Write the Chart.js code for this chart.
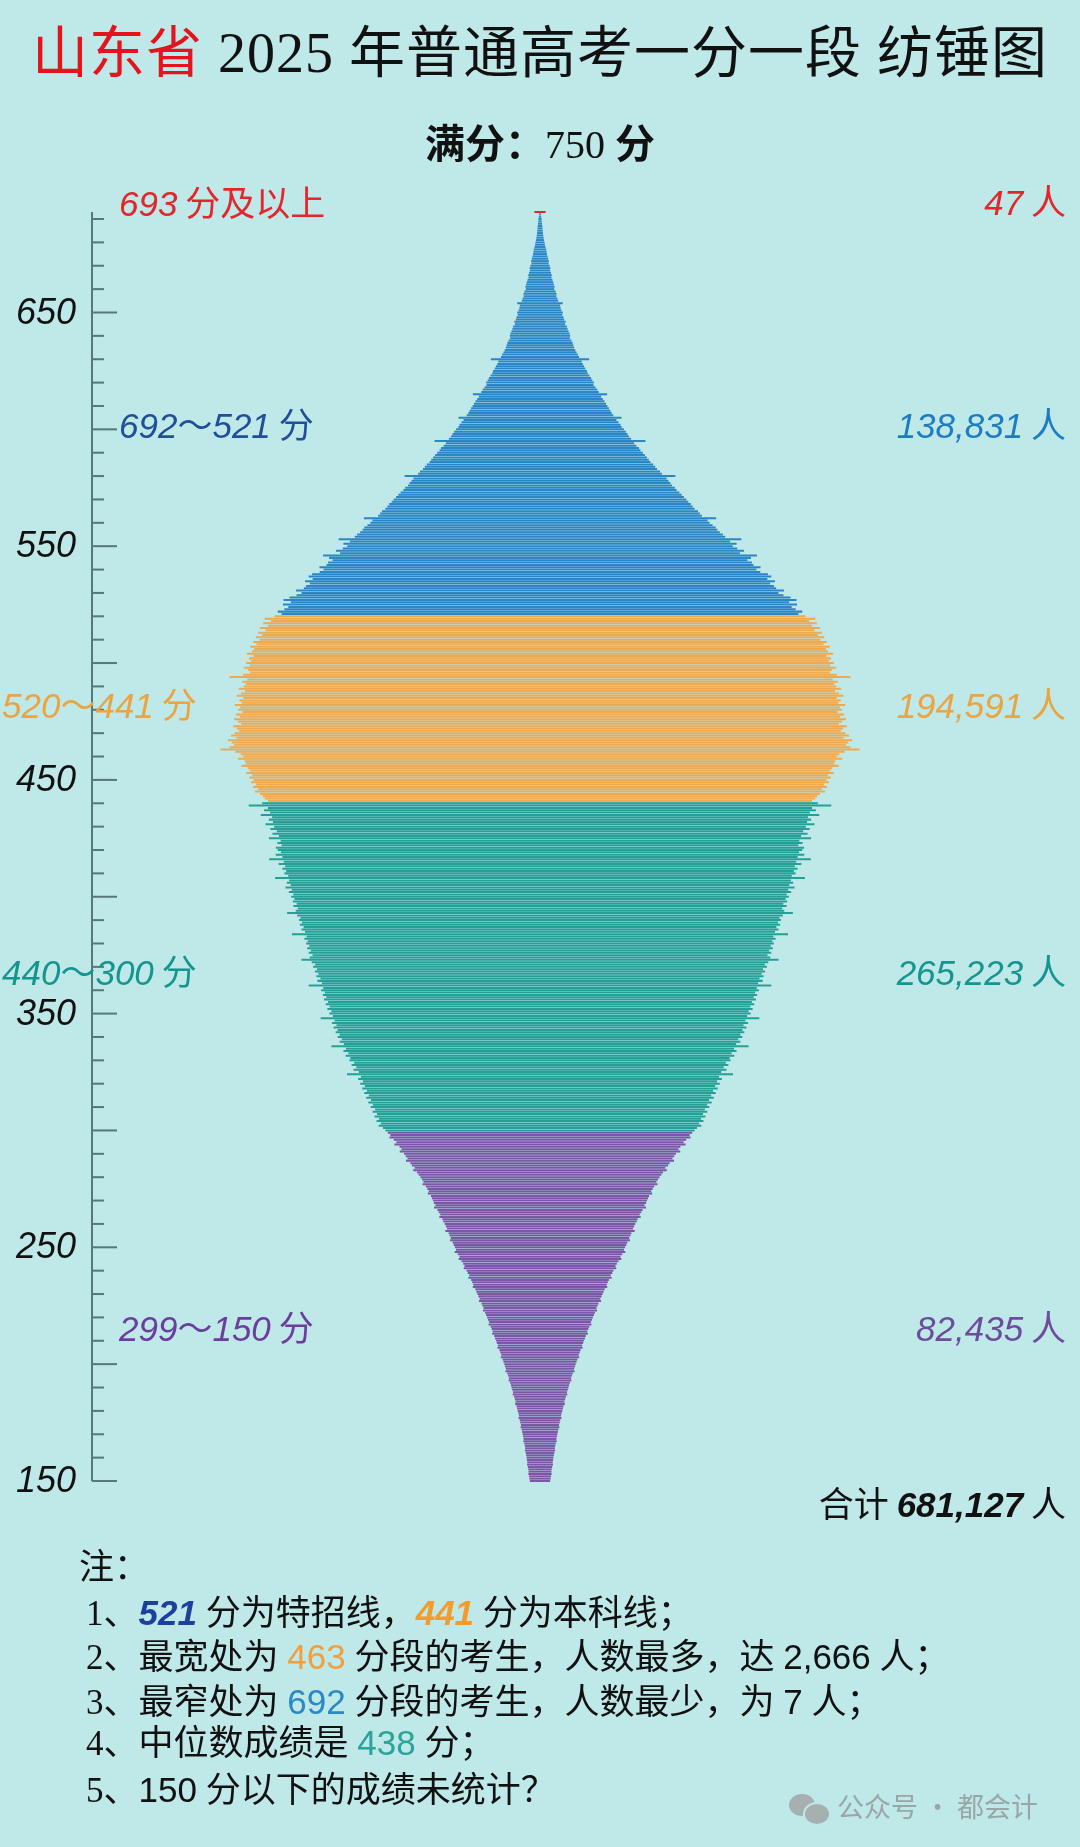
<!DOCTYPE html>
<html lang="zh-CN">
<head>
<meta charset="utf-8">
<title>山东省 2025 年普通高考一分一段 纺锤图</title>
<script src="https://cdn.jsdelivr.net/npm/chart.js@4.4.1/dist/chart.umd.min.js"></script>
<style>
  html, body { margin: 0; padding: 0; background: #bfe8e8; }
  #page { position: relative; width: 1080px; height: 1847px; overflow: hidden; background: #bfe8e8; }
  #chart { position: absolute; left: 0; top: 0; }
  .t { position: absolute; white-space: nowrap; line-height: 40px; height: 40px; font-size: 35px;
       font-family: "Noto Sans CJK SC", sans-serif; }
  .t i { font-family: "Liberation Sans", sans-serif; font-style: italic; }
  .r { right: 14px; text-align: right; }
  .title { position: absolute; left: 0; width: 1080px; text-align: center; white-space: nowrap;
           font-family: "Liberation Serif", "Noto Sans CJK SC", serif; color: #111; }
  .note { position: absolute; white-space: nowrap; line-height: 40px; height: 40px; font-size: 35px;
          font-family: "Liberation Serif", "Noto Sans CJK SC", serif; color: #111; }
  .note .n { font-family: "Liberation Sans", sans-serif; }
  .note .bi { font-family: "Liberation Sans", sans-serif; font-weight: bold; font-style: italic; }
  .wm { position: absolute; left: 789px; top: 1786px; font: 27px "Noto Sans CJK SC", sans-serif; color: #9aa6a6; white-space: nowrap; }
  .wx { display: inline-block; position: relative; width: 40px; height: 30px; vertical-align: -5px; margin-right: 8px; }
  .wx b { position: absolute; border-radius: 50%; background: #a6b0b0; }
</style>
</head>
<body>
<div id="page">
  <canvas id="chart" width="1080" height="1847"></canvas>

  <div class="title" style="top:22px; font-size:56px; line-height:62px; letter-spacing:1px;"><span style="color:#e3141c">山东省</span> 2025 年普通高考一分一段 纺锤图</div>
  <div class="title" style="top:122px; font-size:40px; line-height:46px; font-weight:bold;">满分：<span style="font-weight:normal">750</span> 分</div>

  <div class="t" style="left:119px; top:181px; color:#e3262b"><i>693</i> 分及以上</div>
  <div class="t r" style="top:180px; color:#e3262b"><i>47</i> 人</div>
  <div class="t" style="left:119px; top:403px; color:#1f4f9a"><i>692</i>～<i>521</i> 分</div>
  <div class="t r" style="top:403px; color:#1c7cc4"><i>138,831</i> 人</div>
  <div class="t" style="left:2px; top:683px; color:#eba442"><i>520</i>～<i>441</i> 分</div>
  <div class="t r" style="top:683px; color:#eba442"><i>194,591</i> 人</div>
  <div class="t" style="left:2px; top:950px; color:#14968e"><i>440</i>～<i>300</i> 分</div>
  <div class="t r" style="top:950px; color:#14968e"><i>265,223</i> 人</div>
  <div class="t" style="left:119px; top:1306px; color:#6a3d9e"><i>299</i>～<i>150</i> 分</div>
  <div class="t r" style="top:1306px; color:#6c4c9c"><i>82,435</i> 人</div>
  <div class="t r" style="top:1482px; color:#111">合计 <i style="font-weight:bold">681,127</i> 人</div>

  <div class="note" style="left:79px; top:1548px;">注：</div>
  <div class="note" style="left:86px; top:1593px;">1、<span class="bi" style="color:#1d3f9e">521</span> 分为特招线，<span class="bi" style="color:#f39c2b">441</span> 分为本科线；</div>
  <div class="note" style="left:86px; top:1637px;">2、最宽处为 <span class="n" style="color:#f0a040">463</span> 分段的考生，人数最多，达 <span class="n">2,666</span> 人；</div>
  <div class="note" style="left:86px; top:1682px;">3、最窄处为 <span class="n" style="color:#2a88c8">692</span> 分段的考生，人数最少，为 <span class="n">7</span> 人；</div>
  <div class="note" style="left:86px; top:1723px;">4、中位数成绩是 <span class="n" style="color:#2aa39a">438</span> 分；</div>
  <div class="note" style="left:86px; top:1770px;">5、<span class="n">150</span> 分以下的成绩未统计？</div>

  <div class="wm"><span class="wx"><b style="left:0;top:2px;width:26px;height:22px"></b><b style="left:14px;top:10px;width:24px;height:20px;border:2px solid #bfe8e8"></b></span>公众号 · 都会计</div>
</div>

<script>
// scores 693 (and above) down to 150, one count per score
var topCounts = [47];                 // 693 分及以上
var blueCounts = [                    // 692 .. 521
  7, 10, 13, 14, 17, 19, 21, 23, 24, 27,
  30, 33, 38, 41, 46, 52, 55, 58, 63, 68,
  74, 71, 80, 86, 84, 92, 98, 96, 104, 110,
  116, 121, 118, 130, 138, 136, 145, 152, 190, 168,
  172, 178, 190, 186, 196, 201, 214, 209, 224, 230,
  238, 246, 252, 249, 262, 272, 278, 285, 294, 304,
  316, 326, 410, 348, 356, 368, 378, 392, 398, 412,
  426, 436, 449, 446, 462, 478, 490, 560, 510, 524,
  538, 551, 562, 575, 588, 598, 612, 680, 638, 655,
  672, 681, 700, 716, 730, 741, 760, 880, 786, 804,
  826, 838, 858, 875, 892, 908, 922, 944, 961, 976,
  1001, 1017, 1130, 1055, 1072, 1088, 1101, 1125, 1140, 1163,
  1182, 1201, 1221, 1238, 1258, 1273, 1290, 1318, 1334, 1350,
  1470, 1398, 1415, 1440, 1466, 1480, 1500, 1526, 1545, 1680,
  1586, 1640, 1608, 1645, 1702, 1668, 1810, 1760, 1731, 1768,
  1781, 1840, 1806, 1838, 1902, 1930, 1897, 1960, 1921, 1952,
  1971, 2035, 1990, 2031, 2090, 2140, 2079, 2145, 2100, 2133,
  2188, 2156
];
var orangeCounts = [                  // 520 .. 441
  2215, 2298, 2246, 2310, 2268, 2335, 2290, 2352, 2318, 2371,
  2340, 2392, 2366, 2418, 2385, 2402, 2446, 2391, 2428, 2410,
  2452, 2421, 2468, 2435, 2419, 2478, 2590, 2442, 2486, 2455,
  2470, 2512, 2461, 2495, 2530, 2474, 2508, 2488, 2546, 2501,
  2519, 2483, 2537, 2505, 2552, 2521, 2494, 2560, 2528, 2511,
  2548, 2579, 2532, 2604, 2571, 2553, 2590, 2666, 2542, 2498,
  2476, 2521, 2463, 2455, 2492, 2437, 2418, 2451, 2403, 2426,
  2389, 2410, 2372, 2395, 2351, 2378, 2336, 2312, 2295, 2270
];
var tealCounts = [                    // 440 .. 300
  2318, 2430, 2270, 2302, 2252, 2330, 2236, 2262, 2228, 2290,
  2218, 2250, 2196, 2232, 2178, 2262, 2164, 2192, 2156, 2204,
  2188, 2162, 2205, 2150, 2260, 2138, 2181, 2126, 2149, 2118,
  2132, 2101, 2210, 2093, 2112, 2080, 2124, 2071, 2095, 2058,
  2076, 2049, 2062, 2030, 2057, 2021, 2038, 2110, 2026, 1998,
  2011, 1986, 2003, 1972, 1990, 1961, 2070, 1947, 1966, 1938,
  1951, 1925, 1943, 1912, 1930, 1898, 1921, 1990, 1905, 1876,
  1893, 1861, 1878, 1849, 1866, 1832, 1858, 1820, 1930, 1808,
  1826, 1795, 1811, 1783, 1802, 1768, 1787, 1755, 1774, 1741,
  1758, 1728, 1830, 1714, 1736, 1698, 1722, 1689, 1705, 1672,
  1688, 1654, 1672, 1637, 1740, 1619, 1640, 1598, 1621, 1582,
  1590, 1550, 1572, 1532, 1556, 1512, 1610, 1494, 1518, 1478,
  1500, 1462, 1483, 1444, 1466, 1428, 1450, 1410, 1432, 1394,
  1412, 1376, 1396, 1360, 1380, 1344, 1364, 1328, 1346, 1310,
  1290
];
var purpleCounts = [                  // 299 .. 150
  1270, 1248, 1256, 1220, 1198, 1215, 1172, 1156, 1170, 1134,
  1120, 1105, 1118, 1082, 1068, 1046, 1058, 1026, 1012, 998,
  985, 972, 980, 952, 940, 928, 936, 910, 902, 892,
  885, 872, 884, 856, 845, 832, 840, 815, 806, 795,
  786, 776, 790, 762, 755, 744, 750, 728, 720, 710,
  701, 712, 686, 672, 679, 655, 641, 630, 636, 612,
  603, 591, 598, 575, 566, 556, 561, 540, 531, 522,
  514, 503, 509, 488, 480, 471, 476, 458, 450, 441,
  434, 425, 429, 411, 403, 395, 399, 382, 375, 366,
  360, 351, 355, 338, 331, 323, 327, 312, 305, 298,
  291, 284, 288, 273, 266, 259, 262, 249, 243, 237,
  232, 225, 228, 216, 210, 204, 207, 196, 191, 186,
  181, 176, 179, 169, 164, 159, 162, 153, 149, 145,
  141, 137, 139, 131, 127, 123, 126, 119, 116, 112,
  109, 106, 108, 101, 98, 95, 97, 91, 88, 85
];
var segStart = [693, 692, 520, 440, 299];
var segColors = ['#e3262b', '#2a86c6', '#eeaa50', '#25a097', '#7c57a8'];
var tickLabels = [150, 250, 350, 450, 550, 650];

function bars(from, counts) {
  return counts.map(function (c, i) { return { y: from - i, x: [-c / 2, c / 2] }; });
}

var segCounts = [topCounts, blueCounts, orangeCounts, tealCounts, purpleCounts];
var datasets = segCounts.map(function (counts, k) {
  return {
    data: bars(segStart[k], counts),
    backgroundColor: segColors[k],
    borderWidth: 0,
    grouped: false,
    barPercentage: 0.86,
    categoryPercentage: 1,
    clip: false
  };
});

var scoreAxis = {
  id: 'scoreAxis',
  afterDraw: function (chart) {
    var y = chart.scales.y, ctx = chart.ctx, x0 = chart.chartArea.left;
    ctx.save();
    ctx.strokeStyle = '#56777b';
    ctx.lineWidth = 2;
    ctx.beginPath();
    ctx.moveTo(x0, y.getPixelForValue(693));
    ctx.lineTo(x0, y.getPixelForValue(150));
    ctx.stroke();
    for (var v = 150; v <= 690; v += 10) {
      var py = y.getPixelForValue(v);
      ctx.beginPath();
      ctx.moveTo(x0, py);
      ctx.lineTo(x0 + (v % 50 === 0 ? 25 : 12), py);
      ctx.stroke();
    }
    ctx.fillStyle = '#111';
    ctx.font = 'italic 36px "Liberation Sans"';
    ctx.textAlign = 'right';
    ctx.textBaseline = 'middle';
    tickLabels.forEach(function (t) { ctx.fillText(String(t), x0 - 16, y.getPixelForValue(t) + 1); });
    ctx.restore();
  }
};

new Chart(document.getElementById('chart'), {
  type: 'bar',
  data: { datasets: datasets },
  options: {
    indexAxis: 'y',
    responsive: false,
    animation: false,
    devicePixelRatio: 1,
    layout: { padding: { left: 92, right: 92, top: 212, bottom: 366 } },
    scales: {
      x: { type: 'linear', min: -1869, max: 1869, offset: false, display: false },
      y: { type: 'linear', min: 150, max: 693, offset: false, display: false }
    },
    plugins: { legend: { display: false }, tooltip: { enabled: false } }
  },
  plugins: [scoreAxis]
});
</script>
</body>
</html>
